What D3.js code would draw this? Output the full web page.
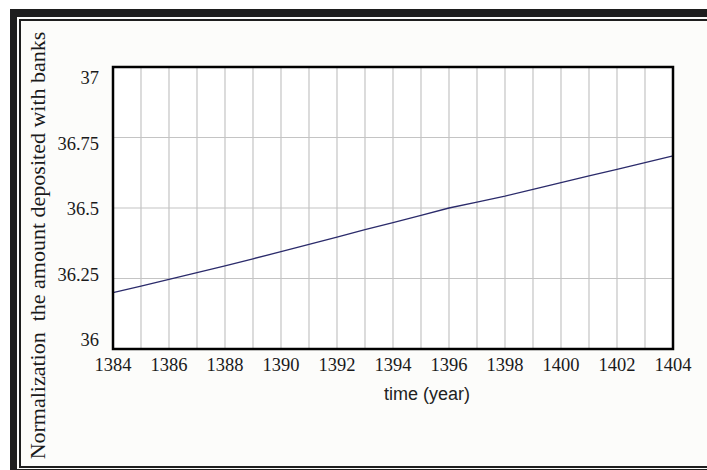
<!DOCTYPE html>
<html><head><meta charset="utf-8">
<script src="https://cdn.jsdelivr.net/npm/d3@7"></script>
<style>html,body{margin:0;padding:0;background:#fff;}svg{display:block;}</style>
</head><body>
<script>
const years = d3.range(1384, 1405);
const values = [36.200, 36.223, 36.247, 36.271, 36.295, 36.320, 36.345, 36.371, 36.397, 36.423, 36.448, 36.474, 36.500, 36.521, 36.542, 36.566, 36.590, 36.614, 36.637, 36.661, 36.685];
const xTickLabels = [1384, 1386, 1388, 1390, 1392, 1394, 1396, 1398, 1400, 1402, 1404];
const yTickLabels = [36, 36.25, 36.5, 36.75, 37];
const xTitle = "time (year)";
const yTitle = "Normalization  the amount deposited with banks";

const W = 707, H = 470;
const svg = d3.select("body").append("svg").attr("width", W).attr("height", H);
svg.append("rect").attr("width", W).attr("height", H).attr("fill", "#ffffff");
svg.append("rect").attr("x", 10).attr("y", 9).attr("width", W - 10).attr("height", H - 9).attr("fill", "#fcfcfa");
svg.append("rect").attr("x", 10).attr("y", 9).attr("width", W - 10).attr("height", 8).attr("fill", "#1e1e1e");
svg.append("rect").attr("x", 10).attr("y", 9).attr("width", 7).attr("height", H - 9).attr("fill", "#1e1e1e");
svg.append("rect").attr("x", 10).attr("y", 469).attr("width", W - 10).attr("height", 2).attr("fill", "#1e1e1e");
svg.append("rect").attr("x", 19).attr("y", 19).attr("width", W - 19).attr("height", 2).attr("fill", "#1e1e1e");
svg.append("rect").attr("x", 19).attr("y", 19).attr("width", 2).attr("height", 449).attr("fill", "#1e1e1e");
svg.append("rect").attr("x", 19).attr("y", 466).attr("width", W - 19).attr("height", 2).attr("fill", "#1e1e1e");

const L = 113, R = 673, T = 67, B = 349;
const x = d3.scaleLinear().domain([1384, 1404]).range([L, R]);
const y = d3.scaleLinear().domain([36, 37]).range([B, T]);
const yLab = d3.scaleLinear().domain([36, 37]).range([346, 84]);

svg.append("rect").attr("x", L).attr("y", T).attr("width", R - L).attr("height", B - T).attr("fill", "#ffffff");

svg.append("g").selectAll("line").data(years.slice(1, -1)).join("line")
  .attr("x1", d => x(d)).attr("x2", d => x(d)).attr("y1", T).attr("y2", B)
  .attr("stroke", "#c4c4c4").attr("stroke-width", 1.2);
svg.append("g").selectAll("line").data(yTickLabels.slice(1, -1)).join("line")
  .attr("x1", L).attr("x2", R).attr("y1", d => y(d)).attr("y2", d => y(d))
  .attr("stroke", "#c4c4c4").attr("stroke-width", 1.2);

svg.append("path").datum(years.map((yr, i) => [yr, values[i]]))
  .attr("d", d3.line().x(d => x(d[0])).y(d => y(d[1])))
  .attr("fill", "none").attr("stroke", "#2b2b6b").attr("stroke-width", 1.3);

svg.append("rect").attr("x", L).attr("y", T).attr("width", R - L).attr("height", B - T)
  .attr("fill", "none").attr("stroke", "#000").attr("stroke-width", 2.5);

svg.append("g").selectAll("text").data(xTickLabels).join("text")
  .attr("x", d => x(d)).attr("y", 371).attr("text-anchor", "middle")
  .attr("font-family", "Liberation Serif, Times New Roman, serif").attr("font-size", 18.5)
  .attr("fill", "#1a1a1a").text(d => d);
svg.append("g").selectAll("text").data(yTickLabels).join("text")
  .attr("x", 99).attr("y", d => yLab(d)).attr("text-anchor", "end")
  .attr("font-family", "Liberation Serif, Times New Roman, serif").attr("font-size", 18.5)
  .attr("fill", "#1a1a1a").text(d => d);

svg.append("text").attr("x", 427).attr("y", 400).attr("text-anchor", "middle")
  .attr("font-family", "Liberation Sans, Arial, sans-serif").attr("font-size", 18)
  .attr("fill", "#222").text(xTitle);
svg.append("text").attr("transform", "translate(45,245.5) rotate(-90)")
  .attr("text-anchor", "middle").attr("xml:space", "preserve").style("white-space", "pre")
  .attr("font-family", "Liberation Serif, Times New Roman, serif").attr("font-size", 22)
  .attr("fill", "#1a1a1a").text(yTitle);
</script>
</body></html>
